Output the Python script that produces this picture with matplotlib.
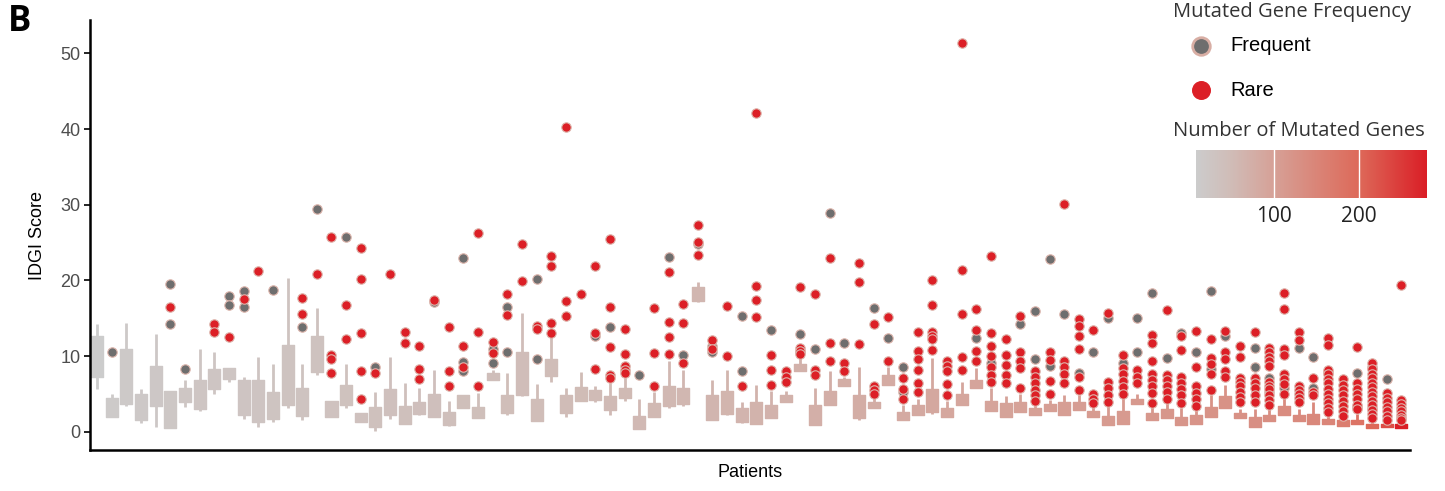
import matplotlib
matplotlib.use("Agg")
import matplotlib.pyplot as plt
import numpy as np
from matplotlib.cm import ScalarMappable
from matplotlib.colors import LinearSegmentedColormap, Normalize

# ---------------------------------------------------------------------------
# Data (one entry per patient, left to right)
# ---------------------------------------------------------------------------

whisker_low = [5.6, 1.9, 3.4, 1.2, 0.7, 0.5, 3.3, 2.7, 5.0, 6.6,
               1.7, 0.6, 1.3, 3.1, 1.5, 7.5, 1.9, 3.2, 1.36, 0.1,
               1.7, 1.06, 2.2, 2.0, 0.8, 3.2, 1.8, 6.9, 2.2, 4.7,
               1.4, 6.6, 2.0, 4.1, 4.0, 2.2, 4.1, 0.4, 2.0, 3.2,
               3.4, 17.2, 1.6, 2.2, 1.2, 1.0, 1.8, 3.9, 8.0, 0.9,
               3.5, 6.0, 1.6, 3.1, 6.2, 1.5, 2.2, 2.3, 2.0, 3.5,
               5.8, 2.8, 2.0, 2.6, 2.2, 2.7, 2.2, 2.9, 1.9, 0.9,
               1.1, 3.65, 1.5, 1.8, 0.9, 1.1, 2.0, 3.1, 1.8, 0.7,
               1.4, 2.2, 1.4, 1.0, 1.1, 0.8, 1.0, 0.5, 0.7, 0.5]
box_q1 = [7.3, 1.9, 3.7, 1.6, 3.4, 0.5, 3.9, 3.0, 5.7, 7.0,
          2.2, 1.3, 1.7, 3.5, 2.1, 7.9, 2.0, 3.6, 1.36, 0.6,
          2.2, 1.06, 2.4, 2.0, 0.9, 3.2, 1.8, 6.9, 2.5, 4.9,
          1.4, 7.4, 2.5, 4.1, 4.2, 2.9, 4.5, 0.4, 2.0, 3.4,
          3.7, 17.3, 1.6, 2.3, 1.3, 1.1, 1.8, 3.9, 8.0, 0.9,
          3.5, 6.0, 1.8, 3.1, 6.2, 1.5, 2.2, 2.6, 2.0, 3.5,
          5.8, 2.8, 2.0, 2.6, 2.2, 2.7, 2.2, 2.9, 1.9, 0.9,
          1.1, 3.65, 1.5, 1.8, 0.9, 1.1, 2.0, 3.1, 1.8, 0.7,
          1.4, 2.2, 1.4, 1.0, 1.1, 0.8, 1.0, 0.5, 0.7, 0.5]
box_q3 = [12.7, 4.5, 11.0, 5.0, 8.7, 5.4, 5.8, 6.8, 8.3, 8.4,
          6.8, 6.9, 5.3, 11.5, 5.85, 12.7, 4.1, 6.2, 2.55, 3.26,
          5.6, 3.4, 4.0, 5.0, 2.6, 4.9, 3.3, 7.8, 4.9, 10.6,
          4.35, 9.6, 4.9, 5.9, 5.5, 4.7, 5.8, 2.1, 3.8, 6.1,
          5.8, 19.1, 4.8, 5.4, 3.1, 3.9, 3.5, 4.9, 9.0, 3.5,
          5.4, 6.95, 4.8, 4.0, 7.5, 2.6, 3.6, 5.7, 3.1, 5.0,
          6.9, 4.1, 3.8, 4.0, 3.1, 3.65, 4.0, 3.9, 2.8, 2.1,
          2.7, 4.4, 2.5, 3.0, 2.0, 2.2, 3.3, 4.7, 2.5, 1.9,
          2.2, 3.4, 2.2, 2.4, 1.7, 1.6, 1.6, 1.1, 1.1, 1.1]
whisker_high = [14.2, 5.0, 14.4, 5.6, 12.9, 5.4, 6.9, 10.9, 10.6, 8.4,
                7.2, 9.9, 8.9, 20.3, 8.9, 16.3, 4.1, 9.0, 2.55, 5.3,
                9.85, 6.4, 5.85, 8.2, 4.1, 4.9, 5.1, 8.2, 7.8, 15.7,
                6.3, 12.6, 5.8, 7.9, 6.1, 6.5, 7.1, 4.35, 5.3, 9.3,
                8.2, 19.8, 6.9, 8.2, 4.0, 6.2, 5.4, 5.4, 9.9, 5.8,
                8.0, 7.3, 8.6, 4.5, 8.6, 3.6, 4.4, 9.8, 4.1, 6.55,
                8.4, 5.8, 4.7, 5.0, 3.9, 4.2, 4.9, 4.9, 3.65, 3.5,
                4.75, 5.0, 3.55, 3.9, 3.2, 2.9, 4.9, 6.2, 3.0, 3.0,
                3.0, 4.7, 3.0, 4.0, 2.4, 1.8, 2.3, 1.4, 1.3, 1.3]
n_genes = [8, 14, 16, 18, 20, 22, 24, 25, 26, 27,
           28, 29, 30, 31, 32, 33, 34, 35, 36, 37,
           38, 39, 40, 40, 41, 42, 43, 44, 45, 46,
           47, 48, 49, 50, 51, 52, 53, 54, 55, 56,
           58, 60, 62, 63, 64, 66, 67, 68, 70, 72,
           74, 75, 76, 78, 80, 82, 84, 86, 88, 90,
           92, 94, 96, 98, 100, 102, 104, 106, 108, 110,
           112, 114, 116, 118, 120, 122, 124, 126, 128, 131,
           134, 137, 140, 144, 150, 165, 180, 200, 230, 280]

frequent_outliers = [
    [], [10.5], [], [], [], [19.5, 14.2], [8.3], [], [], [18.0, 16.7],
    [18.6, 16.5], [], [18.7], [], [13.8], [29.5], [], [25.8], [], [8.5],
    [], [], [], [17.2], [], [23.0, 9.2, 8.1], [], [11.0, 9.1], [16.5, 10.6], [],
    [20.2, 9.6], [], [], [], [12.7], [13.9], [], [7.5], [], [23.1],
    [10.1], [24.8], [10.6, 11.3], [], [15.3, 8.0], [], [13.5], [], [12.9, 10.5], [11.0],
    [28.9], [11.8], [], [16.4], [12.4], [8.6, 5.3], [], [], [], [],
    [12.4], [9.1], [], [14.3], [16.0, 9.6], [22.8, 8.75], [15.5], [7.8], [10.5], [15.1],
    [9.1], [15.1, 10.6], [18.3], [9.7], [13.1], [10.5], [18.6, 8.3], [12.7], [], [11.1, 8.6],
    [7.1, 5.2], [5.8], [11.1], [9.85, 5.75], [7.9], [], [7.8, 3.3], [8.6, 3.1], [6.95], [],
]
rare_outliers = [
    [], [], [], [], [], [16.5], [], [], [14.3, 13.2], [12.5],
    [17.5], [21.2], [], [], [17.7, 15.6], [20.8], [25.8, 10.2, 9.6, 7.8], [16.8, 12.2],
    [24.3, 20.2, 13.0, 8.05, 4.4], [7.8],
    [20.8], [13.2, 11.7], [11.3, 8.3, 7.0], [17.4], [13.9, 8.1, 6.1], [11.4, 8.6],
    [26.2, 13.2, 6.1], [11.9, 10.4], [18.2, 15.4], [24.8, 19.9],
    [14.0, 13.6], [23.2, 21.9, 14.4, 13.1], [40.3, 17.3, 15.3], [18.2], [21.9, 13.0, 8.3],
    [25.5, 16.5, 11.2, 7.5, 7.1], [13.6, 10.3, 8.7, 8.2, 7.8], [], [16.4, 10.4, 6.1],
    [21.1, 14.5, 12.5, 10.3],
    [16.9, 14.4, 9.1], [27.3, 25.1, 23.4], [12.1, 11.0], [16.6, 10.0], [6.1],
    [42.1, 19.3, 17.4, 15.2], [10.2, 8.2, 6.2], [8.0, 7.3, 6.6], [19.1, 11.1, 10.7, 10.3],
    [18.2, 8.2, 7.5],
    [23.0, 11.7, 9.4], [9.1, 8.0], [22.3, 19.8, 11.6], [14.2, 6.1, 5.5, 5.0], [15.2, 9.4],
    [7.1, 5.6, 4.3], [13.2, 10.7, 9.6, 8.2, 6.4, 5.2], [20.0, 16.8, 13.2, 12.6, 12.2, 10.8],
    [9.4, 8.75, 8.1, 6.3, 4.9], [51.3, 21.4, 15.6, 9.85, 8.2],
    [16.2, 13.5, 10.7, 9.4], [23.2, 13.1, 11.3, 10.0, 8.5, 7.5, 6.6], [12.3, 10.1, 8.85, 7.5, 6.5],
    [15.35, 10.6, 9.4, 8.4, 5.85], [8.0, 7.2, 6.4, 5.5, 4.8, 4.1], [10.6, 9.5, 6.7, 5.0],
    [30.1, 9.4, 8.5, 7.7, 6.4], [14.9, 14.0, 12.6, 11.0, 7.2, 5.5], [13.4, 5.0, 4.4, 3.8],
    [15.7, 6.6, 5.75, 4.9, 4.0],
    [10.2, 8.4, 7.6, 6.7, 5.9, 5.0], [8.2, 7.3, 6.4], [12.8, 11.7, 9.3, 7.7, 6.9, 6.0, 5.1, 3.8],
    [16.1, 7.5, 6.8, 6.1, 5.3, 4.4], [12.6, 10.8, 7.3, 6.5, 5.7, 4.8, 3.8],
    [13.3, 8.5, 6.0, 5.1, 4.3, 3.4], [12.3, 9.7, 9.0, 7.7, 5.5], [13.3, 10.6, 9.6, 8.0, 7.2],
    [11.3, 9.85, 7.1, 6.6, 6.0, 5.3, 4.6, 3.9], [13.2, 7.1, 6.4, 5.75, 4.9, 4.0],
    [11.1, 10.5, 9.9, 9.3, 8.7, 6.6, 6.0, 5.6, 4.8, 4.2, 3.6],
    [18.4, 16.2, 10.9, 10.2, 7.7, 7.0, 6.3, 5.0], [13.2, 12.1, 6.0, 5.5, 5.0, 4.5, 4.0],
    [7.1, 5.3, 4.9], [12.4, 11.5, 8.2, 7.6, 7.0, 6.4, 5.7, 5.0, 4.4, 3.8, 3.2, 2.6],
    [6.95, 6.2, 5.5, 4.8, 4.1, 3.4, 2.7, 2.1], [11.25, 6.4, 5.7, 5.0, 4.3, 3.6, 3.0],
    [9.1, 8.3, 7.7, 7.1, 6.5, 5.9, 5.3, 4.7, 4.1, 3.5, 2.9, 2.3, 1.8],
    [5.1, 4.5, 3.9, 3.3, 2.7, 2.1, 1.6], [19.4, 4.2, 3.7, 3.2, 2.7, 2.2, 1.8, 1.5],
]

y_ticks = [0, 10, 20, 30, 40, 50]
cbar_ticks = [100, 200]

FREQ_COLOR = "#6E6E6E"
RARE_COLOR = "#DC1F26"
HALO = "#DDB5AC"

# ---------------------------------------------------------------------------
# Figure
# ---------------------------------------------------------------------------

W, H = 1445, 491
fig = plt.figure(figsize=(W / 100, H / 100), dpi=100)
ax = fig.add_axes([90 / W, 1 - 450 / H, 1320 / W, 430 / H])

cmap = LinearSegmentedColormap.from_list(
    "grey_red",
    [(0.0, "#CCCCCC"), (0.15, "#D0BCB7"), (0.34, "#D6A096"),
     (0.7, "#DD6A5A"), (1.0, "#DA1E26")],
)
norm = Normalize(min(n_genes), max(n_genes))
x = np.arange(1, len(n_genes) + 1)
box_colors = cmap(norm(n_genes))

ax.vlines(x, whisker_low, whisker_high, colors=box_colors, lw=2.0, zorder=1)
ax.bar(x, np.subtract(box_q3, box_q1), bottom=box_q1, width=0.82,
       color=box_colors, edgecolor=box_colors, linewidth=1.0,
       joinstyle="round", zorder=2)

fx = [xi for xi, vals in zip(x, frequent_outliers) for _ in vals]
fy = [v for vals in frequent_outliers for v in vals]
rx = [xi for xi, vals in zip(x, rare_outliers) for _ in vals]
ry = [v for vals in rare_outliers for v in vals]
ax.scatter(fx, fy, s=46, color=FREQ_COLOR, edgecolors=HALO, linewidths=0.8, zorder=3)
ax.scatter(rx, ry, s=46, color=RARE_COLOR, edgecolors=HALO, linewidths=0.8, zorder=4)

ax.set_xlim(0.52, 90.6)
ax.set_ylim(-2.4, 54.4)
ax.set_xticks([])
ax.set_yticks(y_ticks)
ax.tick_params(axis="y", length=4, width=1.2, labelsize=13, labelcolor="#4D4D4D", pad=3)
for lbl in ax.get_yticklabels():
    lbl.set_family("Liberation Sans")
for side in ("top", "right"):
    ax.spines[side].set_visible(False)
for side in ("left", "bottom"):
    ax.spines[side].set_linewidth(1.8)
ax.set_ylabel("IDGI Score", fontsize=13, family="Liberation Sans", labelpad=10)
ax.set_xlabel("Patients", fontsize=13, family="Liberation Sans", labelpad=10)

fig.text(8 / W, 1 - 22 / H, "B", fontsize=25, fontweight="bold",
         family="Open Sans", va="center", ha="left")

# ---------------------------------------------------------------------------
# Legends (pixel-coordinate overlay)
# ---------------------------------------------------------------------------

ov = fig.add_axes([0, 0, 1, 1])
ov.set_xlim(0, W)
ov.set_ylim(H, 0)
ov.axis("off")

ov.text(1173, 12, "Mutated Gene Frequency", fontsize=14.5, family="Open Sans",
        color="#333333", va="center", ha="left")
ov.scatter([1201], [46], s=160, color=FREQ_COLOR, edgecolors="#D8AEA4", linewidths=2)
ov.scatter([1201], [90], s=160, color=RARE_COLOR, edgecolors=RARE_COLOR, linewidths=1)
ov.text(1230, 45, "Frequent", fontsize=14.5, family="Liberation Sans", va="center")
ov.text(1230, 90, "Rare", fontsize=14.5, family="Liberation Sans", va="center")
ov.text(1173, 131, "Number of Mutated Genes", fontsize=14.5, family="Open Sans",
        color="#333333", va="center", ha="left")

cax = fig.add_axes([1196 / W, 1 - 198 / H, 231 / W, 48 / H])
cb = fig.colorbar(ScalarMappable(norm=norm, cmap=cmap), cax=cax,
                  orientation="horizontal", ticks=cbar_ticks)
cb.outline.set_visible(False)
cax.tick_params(length=0, labelsize=15, pad=6, labelcolor="#222222")
for lbl in cax.get_xticklabels():
    lbl.set_family("Open Sans")
for t in cbar_ticks:
    cax.axvline(t, color="white", lw=1)

fig.savefig("out.png", dpi=100)
